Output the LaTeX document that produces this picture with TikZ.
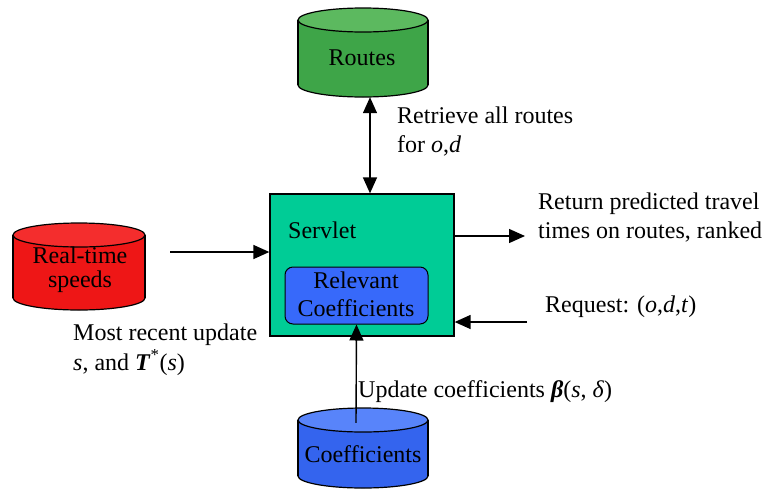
\documentclass[tikz,border=0pt]{standalone}
\usepackage{fontspec}
\setmainfont{Liberation Serif}
\usetikzlibrary{arrows.meta,calc}
\definecolor{servc}{RGB}{0,204,150}
\definecolor{relc}{RGB}{55,105,250}
\definecolor{grnbody}{RGB}{62,165,72}
\definecolor{grntop}{RGB}{92,185,95}
\definecolor{redbody}{RGB}{238,22,22}
\definecolor{redtop}{RGB}{244,45,45}
\definecolor{blubody}{RGB}{52,100,238}
\definecolor{blutop}{RGB}{88,132,250}
\tikzset{
  cylout/.style={draw=black, line width=1.2pt},
  lbl/.style={font=\fontsize{24}{28}\selectfont, inner sep=0, anchor=base west},
  ctr/.style={font=\fontsize{24}{28}\selectfont, inner sep=0, anchor=base},
  conn/.style={line width=1.4pt, -{Triangle[length=16pt,width=14pt]}},
  dconn/.style={line width=1.4pt, {Triangle[length=16pt,width=14pt]}-{Triangle[length=16pt,width=14pt]}}
}
\newcommand\drawcyl[7]{%
  \path[fill=#6, cylout] (#2,#4) ellipse [x radius=#5, y radius=12];
  \fill[#6] (#2-#5,#3) rectangle (#2+#5,#4);
  \draw[cylout] (#2-#5,#3) -- (#2-#5,#4) (#2+#5,#3) -- (#2+#5,#4);
  \path[fill=#7, cylout] (#2,#3) ellipse [x radius=#5, y radius=12];
  \node[inner sep=0, minimum width={2*#5}, minimum height={#4-#3+24}] (#1) at (#2,{(#3+#4)/2}) {};
}
\begin{document}
\begin{tikzpicture}[x=1pt,y=-1pt]
\useasboundingbox (0,0) rectangle (766,491);
\fill[white] (0,0) rectangle (766,491);

% cylinders
\drawcyl{routes}{363}{20}{85}{65}{grnbody}{grntop}
\drawcyl{speeds}{79}{235}{298}{66}{redbody}{redtop}
\drawcyl{coef}{363}{420}{476}{65}{blubody}{blutop}

\node[ctr] (routestxt) at (362,65) {Routes};
\node[ctr] (speedstxt1) at (80,263) {Real-time};
\node[ctr] (speedstxt2) at (80,287) {speeds};
\node[ctr] (coeftxt) at (363,462) {Coefficients};

% servlet
\node[draw, fill=servc, line width=1.3pt, minimum width=184, minimum height=142, inner sep=0] (servlet) at (362,265) {};
\node[lbl] (servtxt) at (288,238) {Servlet};
\node[draw, fill=relc, rounded corners=8pt, line width=1pt, minimum width=143, minimum height=57, inner sep=0] (rel) at (356.5,295.5) {};
\node[ctr] (reltxt1) at (356,288) {Relevant};
\node[ctr] (reltxt2) at (356,316) {Coefficients};

% connectors
\draw[dconn] ([xshift=7]routes.south) -- ([xshift=8]servlet.north);
\coordinate (rt) at (170,252);
\draw[conn] (rt) -- (rt -| servlet.west);
\coordinate (retend) at (525,236);
\draw[conn] (servlet.east |- retend) -- (retend);
\coordinate (reqstart) at (527,322);
\draw[conn] (reqstart) -- (reqstart -| servlet.east);
\draw[conn] ($(coef.north)+(-7,15)$) -- (rel.south);

% labels
\node[lbl] (ret1) at (397,123) {Retrieve all routes};
\node[lbl] (ret2) at (397,152) {for \textit{o},\textit{d}};
\node[lbl] (rtn1) at (538,209) {Return predicted travel};
\node[lbl] (rtn2) at (538,238) {times on routes, ranked};
\node[lbl] (req) at (545,312) {Request: (\textit{o},\textit{d},\textit{t})};
\node[lbl] (mru1) at (73,340) {Most recent update};
\node[lbl] (mru2) at (73,370) {\textit{s}, and \textbf{\textit{T}}\textsuperscript{*}(\textit{s})};
\node[lbl] (upd) at (358,397) {Update coefficients \textbf{\textit{β}}(\textit{s}, \textit{δ})};
\end{tikzpicture}
\end{document}
